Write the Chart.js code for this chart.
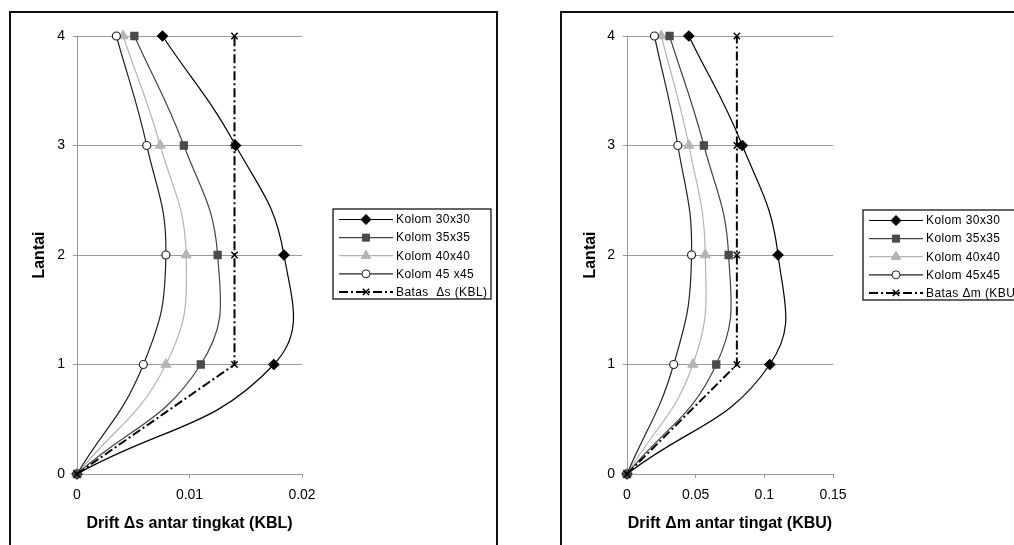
<!DOCTYPE html>
<html>
<head>
<meta charset="utf-8">
<script src="https://cdn.jsdelivr.net/npm/chart.js@4"></script>
<style>
  html, body { margin: 0; padding: 0; background: #fff; overflow: hidden; }
  body { width: 1014px; height: 545px; position: relative; }
  .box { position: absolute; border: 2px solid #111; box-sizing: border-box; }
  canvas { position: absolute; }
</style>
</head>
<body>
<div class="box" style="left:9px;top:11px;width:489px;height:600px"></div>
<div class="box" style="left:560px;top:11px;width:520px;height:600px"></div>
<canvas id="kblCanvas" width="487" height="533" style="left:10px;top:12px"></canvas>
<canvas id="kbuCanvas" width="500" height="533" style="left:561px;top:12px"></canvas>
<script>
// lantai (floor) levels, y axis
const floors = [0, 1, 2, 3, 4];
const yTicks = [0, 1, 2, 3, 4];

// drift Δs, KBL
const kbl30 = [0, 0.0175, 0.0184, 0.0141, 0.0076];
const kbl35 = [0, 0.0110, 0.0125, 0.0095, 0.0051];
const kbl40 = [0, 0.0079, 0.0097, 0.0074, 0.0041];
const kbl45 = [0, 0.0059, 0.0079, 0.0062, 0.0035];
const kblLimit = [0, 0.014, 0.014, 0.014, 0.014];
const kblTicks = [0, 0.01, 0.02];

// drift Δm, KBU
const kbu30 = [0, 0.104, 0.110, 0.084, 0.045];
const kbu35 = [0, 0.065, 0.074, 0.056, 0.031];
const kbu40 = [0, 0.048, 0.057, 0.045, 0.025];
const kbu45 = [0, 0.034, 0.047, 0.037, 0.020];
const kbuLimit = [0, 0.08, 0.08, 0.08, 0.08];
const kbuTicks = [0, 0.05, 0.1, 0.15];

const seriesNames = ["Kolom 30x30", "Kolom 35x35", "Kolom 40x40"];

Chart.defaults.font.family = "'Liberation Sans', Arial, sans-serif";
Chart.defaults.color = "#000";

function toPoints(xs) {
  return xs.map((x, i) => ({ x: x, y: floors[i] }));
}

// legend box drawn in the right hand padding, like the excel one
const boxLegend = {
  id: "boxLegend",
  afterDraw(chart, args, opts) {
    const ctx = chart.ctx;
    ctx.save();
    ctx.fillStyle = "#fff";
    ctx.fillRect(opts.x, opts.y, opts.w, opts.h);
    ctx.lineWidth = 1.2;
    ctx.strokeStyle = "#000";
    ctx.strokeRect(opts.x, opts.y, opts.w, opts.h);
    chart.data.datasets.forEach((ds, i) => {
      const cy = opts.y + 10.5 + i * opts.rowH;
      ctx.strokeStyle = ds.borderColor;
      ctx.lineWidth = ds.borderWidth;
      ctx.setLineDash(ds.borderDash || []);
      ctx.beginPath();
      ctx.moveTo(opts.x + 6, cy);
      ctx.lineTo(opts.x + 60, cy);
      ctx.stroke();
      ctx.setLineDash([]);
      ctx.fillStyle = ds.pointBackgroundColor;
      ctx.strokeStyle = ds.pointBorderColor;
      ctx.lineWidth = ds.pointBorderWidth || 1;
      Chart.helpers.drawPoint(ctx, {
        pointStyle: ds.pointStyle, rotation: 0, radius: ds.pointRadius,
        borderWidth: ds.pointBorderWidth || 1,
      }, opts.x + 33, cy);
      ctx.fillStyle = "#000";
      ctx.font = "12px 'Liberation Sans', Arial, sans-serif";
      ctx.letterSpacing = "0.4px";
      ctx.textBaseline = "middle";
      ctx.fillText(ds.label, opts.x + 63, cy + 0.5);
    });
    ctx.restore();
  },
};

function makeDatasets(s30, s35, s40, s45, limit, name45, limitName) {
  return [
    {
      label: seriesNames[0], data: toPoints(s30), order: 5,
      borderColor: "#000", borderWidth: 1.2, tension: 0.45,
      pointStyle: "rectRot", pointRadius: 5,
      pointBackgroundColor: "#000", pointBorderColor: "#000",
    },
    {
      label: seriesNames[1], data: toPoints(s35), order: 2,
      borderColor: "#444", borderWidth: 1.2, tension: 0.45,
      pointStyle: "rect", pointRadius: 5,
      pointBackgroundColor: "#4a4a4a", pointBorderColor: "#4a4a4a",
    },
    {
      label: seriesNames[2], data: toPoints(s40), order: 4,
      borderColor: "#b4b4b4", borderWidth: 1.2, tension: 0.45,
      pointStyle: "triangle", pointRadius: 5.5,
      pointBackgroundColor: "#b4b4b4", pointBorderColor: "#b4b4b4",
    },
    {
      label: name45, data: toPoints(s45), order: 3,
      borderColor: "#222", borderWidth: 1.2, tension: 0.45,
      pointStyle: "circle", pointRadius: 4,
      pointBackgroundColor: "#fff", pointBorderColor: "#222",
    },
    {
      label: limitName, data: toPoints(limit), order: 1,
      borderColor: "#000", borderWidth: 2, borderDash: [9, 3, 2, 3], tension: 0,
      pointStyle: "crossRot", pointRadius: 4.5, pointBorderWidth: 1.5,
      pointBackgroundColor: "#000", pointBorderColor: "#000",
    },
  ];
}

function makeChart(canvasId, datasets, xTicks, xTitle, padRight, yWidth, legendPos) {
  return new Chart(document.getElementById(canvasId), {
    type: "scatter",
    data: { datasets: datasets },
    options: {
      responsive: false,
      animation: false,
      showLine: true,
      clip: false,
      elements: { point: { borderWidth: 1 }, line: { capBezierPoints: false } },
      layout: { padding: { left: 0, top: 24, right: padRight, bottom: 0 } },
      plugins: {
        legend: { display: false },
        tooltip: { enabled: false },
        boxLegend: legendPos,
      },
      scales: {
        x: {
          type: "linear",
          min: xTicks[0],
          max: xTicks[xTicks.length - 1],
          afterBuildTicks: (scale) => { scale.ticks = xTicks.map((v) => ({ value: v })); },
          afterFit: (scale) => { scale.height = 71; },
          ticks: { font: { size: 14 }, padding: 9, callback: (v) => String(v) },
          grid: { drawOnChartArea: false, drawTicks: true, tickLength: 4, color: "#999" },
          border: { color: "#999", width: 1 },
          title: { display: true, text: xTitle, font: { size: 16, weight: "bold" }, padding: { top: 0, bottom: 12 } },
        },
        y: {
          type: "linear",
          min: 0,
          max: 4,
          afterBuildTicks: (scale) => { scale.ticks = yTicks.map((v) => ({ value: v })); },
          afterFit: (scale) => { scale.width = yWidth; },
          ticks: { font: { size: 14 }, padding: 8 },
          grid: { color: "#999", tickLength: 4 },
          border: { color: "#999", width: 1 },
          title: { display: true, text: "Lantai", font: { size: 16, weight: "bold" }, padding: { top: 20, bottom: 0 } },
        },
      },
    },
    plugins: [boxLegend],
  });
}

makeChart(
  "kblCanvas",
  makeDatasets(kbl30, kbl35, kbl40, kbl45, kblLimit, "Kolom 45 x45", "Batas  Δs (KBL)"),
  kblTicks, "Drift Δs antar tingkat (KBL)", 195, 67,
  { x: 323, y: 197, w: 158, h: 90, rowH: 18.1 }
);
makeChart(
  "kbuCanvas",
  makeDatasets(kbu30, kbu35, kbu40, kbu45, kbuLimit, "Kolom 45x45", "Batas Δm (KBU)"),
  kbuTicks, "Drift Δm antar tingat (KBU)", 228, 66,
  { x: 302, y: 198, w: 158, h: 90, rowH: 18.1 }
);
</script>
</body>
</html>
